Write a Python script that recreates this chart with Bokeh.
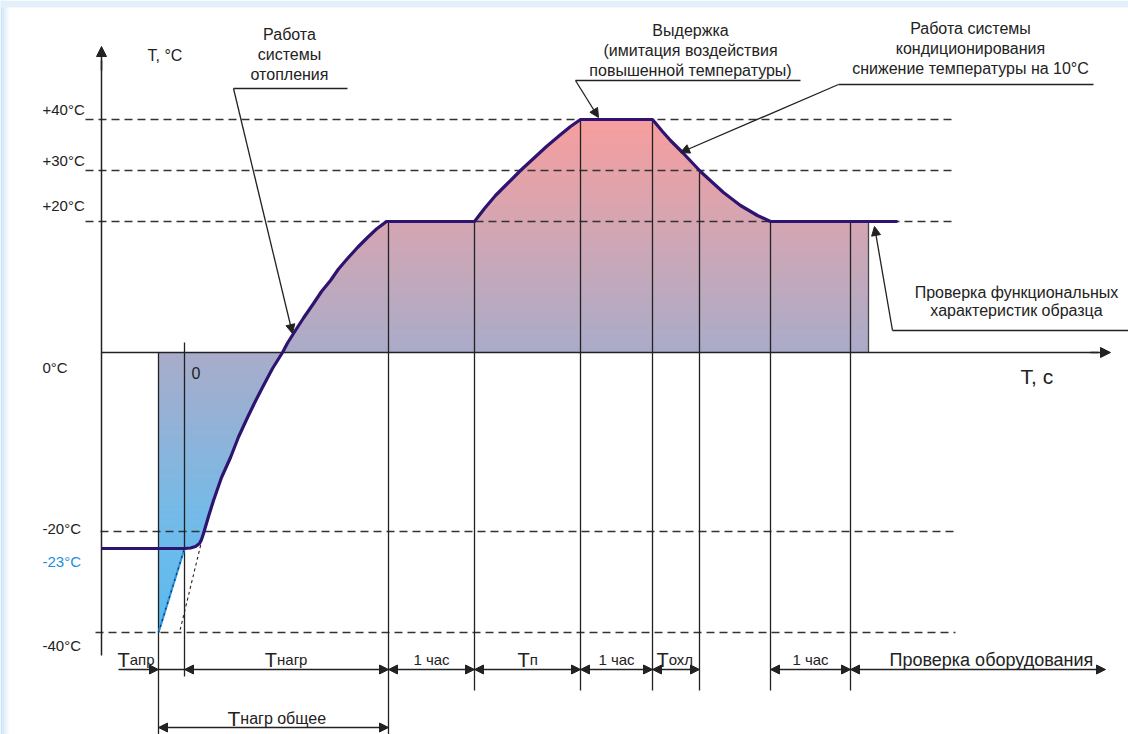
import numpy as np
from bokeh.plotting import figure
from bokeh.models import Range1d, Arrow, NormalHead
from bokeh.core.properties import value
from bokeh.embed import file_html
from bokeh.resources import INLINE

# ---------------- data (schematic units = diagram pixels) ----------------
# temperature levels and their vertical positions on the schematic
LEVEL_TEXT = ["+40°C", "+30°C", "+20°C", "0°C", "-20°C", "-23°C", "-40°C"]
LEVEL_Y = [119, 170, 221, 352, 531, 548, 632]
LEVEL_LABEL_Y = [109, 160, 205, 367, 528, 561, 645]
LEVEL_COLOR = ["#222222", "#222222", "#222222", "#222222", "#222222", "#1a8fe0", "#222222"]

# phase boundaries on the time axis
PHASE_X = [158, 184, 388, 474, 580, 652, 699, 770, 850]
PHASE_TOP = [352, 342, 221, 221, 119, 119, 171, 221, 221]
PHASE_BOTTOM = [734, 676, 734, 690, 690, 690, 690, 690, 690]
FILL_END_X = 868

# temperature profile
CURVE_X = [101, 184, 190, 195, 199, 201, 203, 208, 213, 221, 230, 238, 247, 255, 263,
           272, 282, 287, 293, 303, 313, 321, 330, 338, 347, 357, 367, 376, 386,
           474, 484, 495, 507, 520, 533, 546, 559, 570, 580,
           652, 662, 670, 683, 700, 712, 723, 740, 757, 770, 897]
CURVE_Y = [548, 548, 547.5, 546, 543, 539, 533, 516, 500, 477, 457, 436.5, 417, 400.5, 385,
           368, 352, 342.5, 333, 317.5, 303, 291, 280, 268.5, 258, 247, 237, 228.5, 221,
           221, 208, 195, 183, 170, 158, 146, 135, 126, 119,
           119, 131, 140, 153, 171, 182, 192, 205, 215, 221, 221]

# dimension intervals (bottom)
DIM_SEGMENTS = [(184, 388, "Т", "нагр"), (388, 474, "", "1 час"), (474, 580, "Т", "п"),
                (580, 652, "", "1 час"), (652, 699, "Т", "охл"), (770, 850, "", "1 час")]

# gradient colour stops (vertical)
GRAD_Y = [119, 221, 352, 531, 632]
GRAD_RGB = [(247, 158, 158), (214, 166, 178), (170, 172, 202), (112, 188, 235), (90, 186, 240)]

FONT = value("Liberation Sans")
INK = "#222222"
PURPLE = "#2e1470"

W, H = 1128, 734
p = figure(width=W, height=H, x_range=Range1d(0, W), y_range=Range1d(H, 0),
           output_backend="svg", toolbar_location=None, x_axis_type=None, y_axis_type=None,
           min_border=0, outline_line_color=None, background_fill_color="white",
           border_fill_color="white")
p.grid.visible = False

# light blue page frame
frame_steps = [(0, "#c9e2f7"), (2, "#d6e9f9"), (4, "#e4f0fb"), (6, "#f1f7fd")]
for k, c in frame_steps:
    p.quad(left=k, right=k + 2, top=0, bottom=H, fill_color=c, line_color=None)
p.quad(left=0, right=W, top=0, bottom=7, fill_color="#e3effa", line_color=None)

# ---------------- gradient fill ----------------
def clip_band(poly, y0, y1):
    def clip_edge(pts, inside, yc):
        out = []
        n = len(pts)
        for i in range(n):
            cur, prev = pts[i], pts[i - 1]
            def inter(a, b):
                t = (yc - a[1]) / (b[1] - a[1])
                return (a[0] + t * (b[0] - a[0]), yc)
            if inside(cur):
                if not inside(prev):
                    out.append(inter(prev, cur))
                out.append(cur)
            elif inside(prev):
                out.append(inter(prev, cur))
        return out
    pts = clip_edge(poly, lambda q: q[1] >= y0, y0)
    if not pts:
        return pts
    return clip_edge(pts, lambda q: q[1] <= y1, y1)

start = CURVE_X.index(184)
poly = [(PHASE_X[0], 352), (PHASE_X[0], 632)]
for x, y in zip(CURVE_X[start:-1], CURVE_Y[start:-1]):
    poly.append((x, y))
poly += [(FILL_END_X, 221), (FILL_END_X, 352)]

xs_b, ys_b, cols = [], [], []
edges = np.arange(118, 634, 3.0)
for y0, y1 in zip(edges[:-1], edges[1:]):
    band = clip_band(poly, y0, y1)
    if len(band) < 3:
        continue
    ym = 0.5 * (y0 + y1)
    r, g, b = (int(np.interp(ym, GRAD_Y, [c[k] for c in GRAD_RGB])) for k in range(3))
    xs_b.append([q[0] for q in band])
    ys_b.append([q[1] for q in band])
    cols.append("#%02x%02x%02x" % (r, g, b))
p.patches(xs_b, ys_b, fill_color=cols, line_color=cols, line_width=1)

# fill right border
p.line([FILL_END_X, FILL_END_X], [221, 352], line_color="#444444", line_width=1.3)

# ---------------- dashed levels ----------------
dash_x0 = [85, 85, 85, 100, 95]
dash_lv = [0, 1, 2, 4, 6]
p.multi_line([[x0, 955] for x0 in dash_x0], [[LEVEL_Y[i], LEVEL_Y[i]] for i in dash_lv],
             line_color="#333333", line_width=1.3, line_dash="8 5")

# ---------------- vertical phase lines ----------------
p.multi_line([[x, x] for x in PHASE_X], [[t, b] for t, b in zip(PHASE_TOP, PHASE_BOTTOM)],
             line_color=INK, line_width=1.3)

# axes
p.line([101, 101], [60, 655], line_color=INK, line_width=1.5)
p.line([101, 1098], [352, 352], line_color=INK, line_width=1.5)
p.add_layout(Arrow(x_start=101, y_start=70, x_end=101, y_end=46, line_color=INK, line_width=1.5,
                   end=NormalHead(size=10, fill_color=INK, line_color=INK)))
p.add_layout(Arrow(x_start=1090, y_start=352, x_end=1110, y_end=352, line_color=INK, line_width=1.5,
                   end=NormalHead(size=10, fill_color=INK, line_color=INK)))

# cold-start helper lines
p.line([158, 184], [632, 548], line_color="#2a95e0", line_width=2.2)
p.line([158, 184], [632, 548], line_color="#1a2a50", line_width=1.2, line_dash="2 4")
p.line([203, 179], [533, 632], line_color=INK, line_width=1.1, line_dash="3 3")

# temperature profile
p.line(CURVE_X, CURVE_Y, line_color=PURPLE, line_width=3.2, line_join="round")

# ---------------- level labels ----------------
p.text(x=[42] * len(LEVEL_TEXT), y=LEVEL_LABEL_Y, text=LEVEL_TEXT, text_font=FONT,
       text_font_size="15px", text_align="left", text_baseline="middle", text_color=LEVEL_COLOR)
p.text(x=[147], y=[55], text=["T, °C"], text_font=FONT, text_font_size="16px",
       text_baseline="middle", text_color=INK)
p.text(x=[191], y=[372], text=["0"], text_font=FONT, text_font_size="16px",
       text_baseline="middle", text_color=INK)
p.text(x=[1020], y=[376], text=["T, c"], text_font=FONT, text_font_size="21px",
       text_baseline="middle", text_color=INK)

# ---------------- annotations ----------------
def block(lines, cx, y0, step=20, size="16px", align="center"):
    p.text(x=[cx] * len(lines), y=[y0 + i * step for i in range(len(lines))], text=lines,
           text_font=FONT, text_font_size=size, text_align=align, text_baseline="middle",
           text_color=INK)

def leader(x0, y0, x1, y1):
    p.add_layout(Arrow(x_start=x0, y_start=y0, x_end=x1, y_end=y1, line_color=INK, line_width=1.3,
                       end=NormalHead(size=9, fill_color=INK, line_color=INK)))

block(["Работа", "системы", "отопления"], 289, 34)
p.line([233, 347], [88, 88], line_color=INK, line_width=1.3)
leader(233, 88, 292, 333)

block(["Выдержка", "(имитация воздействия", "повышенной температуры)"], 690, 30)
p.line([575, 800], [80, 80], line_color=INK, line_width=1.3)
leader(575, 80, 598, 117)

block(["Работа системы", "кондиционирования", "снижение температуры на 10°C"], 970, 28)
p.line([838, 1093], [84, 84], line_color=INK, line_width=1.3)
leader(838, 84, 680, 152)

block(["Проверка функциональных", "характеристик образца"], 1016, 292, step=18)
p.line([892, 1128], [330, 330], line_color=INK, line_width=1.3)
leader(892, 330, 874, 226)

# ---------------- dimension arrows ----------------
def dim(x0, x1, y, both=True):
    head = lambda: NormalHead(size=9, fill_color=INK, line_color=INK)
    p.add_layout(Arrow(x_start=x0, y_start=y, x_end=x1, y_end=y, line_color=INK, line_width=1.3,
                       start=head() if both else None, end=head()))

dim(118, 158, 669, both=False)
p.line([158, 184], [669, 669], line_color=INK, line_width=1.3)
for x0, x1, big, small in DIM_SEGMENTS:
    dim(x0, x1, 669)
dim(850, 1105, 669)
dim(158, 388, 727)

def t_label(x, y, small, big_size=20, small_size=15):
    p.text(x=[x], y=[y], text=["Т"], text_font=FONT, text_font_size=f"{big_size}px",
           text_baseline="alphabetic", text_color=INK)
    p.text(x=[x + 0.61 * big_size], y=[y], text=[small], text_font=FONT,
           text_font_size=f"{small_size}px", text_baseline="alphabetic", text_color=INK)

t_label(117, 659, "апр")
for x0, x1, big, small in DIM_SEGMENTS:
    if big:
        w = 0.61 * 20 + len(small) * 0.52 * 15
        t_label(0.5 * (x0 + x1) - w / 2 if small != "охл" else x0 + 4, 659, small)
    else:
        p.text(x=[0.5 * (x0 + x1)], y=[659], text=[small], text_font=FONT, text_font_size="15px",
               text_align="center", text_baseline="alphabetic", text_color=INK)
p.text(x=[889], y=[659], text=["Проверка оборудования"], text_font=FONT, text_font_size="18px",
       text_baseline="alphabetic", text_color=INK)
t_label(227, 718, "нагр общее", big_size=21, small_size=16)

open("out.html", "w").write(file_html(p, INLINE))
